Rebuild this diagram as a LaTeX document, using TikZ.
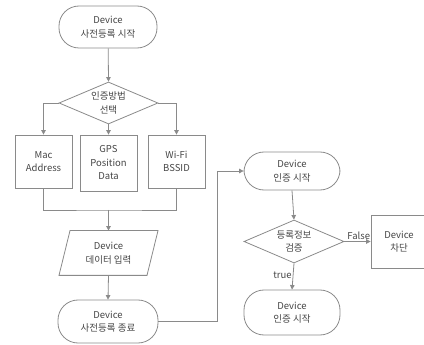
\documentclass[tikz,border=0pt]{standalone}
\usepackage{fontspec}
\setmainfont{Noto Sans CJK KR}
\usetikzlibrary{arrows.meta,calc,shapes.geometric}
\definecolor{linegray}{HTML}{8A8A8A}
\definecolor{textgray}{HTML}{454545}
\tikzset{
  base/.style={draw=linegray, line width=0.8pt, text=textgray, align=center, inner sep=0pt,
    font=\fontsize{9.5}{13.5}\selectfont},
  terminal/.style={base, rectangle, rounded corners=20pt},
  procbox/.style={base, rectangle},
  decision/.style={base, diamond},
  iobox/.style={base, draw=none},
  label/.style={text=textgray, font=\fontsize{9.5}{12}\selectfont, inner sep=1pt},
  flow/.style={draw=linegray, line width=0.8pt, -{Triangle[width=4.5pt,length=4.5pt]}},
  link/.style={draw=linegray, line width=0.8pt}
}
\begin{document}
\begin{tikzpicture}[x=1pt, y=-1pt]
\useasboundingbox (0,0) rectangle (424,345);

% registration branch
\node[terminal, minimum width=98pt, minimum height=42pt] (start) at (108,27) {Device\\사전등록 시작};
\node[decision, minimum width=99pt, minimum height=42pt] (sel) at (108.5,103) {};
\node[text=textgray, align=center, font=\fontsize{9.5}{13.5}\selectfont, inner sep=0pt] (seltxt) at (sel) {인증방법\\선택};

\node[procbox, minimum width=57pt, minimum height=53pt] (mac) at (43.5,161.5) {Mac\\Address};
\node[procbox, minimum width=57pt, minimum height=56pt] (gps) at (108.5,163) {GPS\\Position\\Data};
\node[procbox, minimum width=57pt, minimum height=53pt] (wifi) at (176.5,161.5) {Wi-Fi\\BSSID};
\coordinate (merge) at (108.5,210);

\node[iobox, minimum width=88pt, minimum height=44pt] (inp) at (108.5,253) {Device\\데이터 입력};
\draw[link] ($(inp.north)+(-38.5pt,0)$) -- ($(inp.north)+(49.5pt,0)$)
  -- ($(inp.south)+(38.5pt,0)$) -- ($(inp.south)+(-49.5pt,0)$) -- cycle;

\node[terminal, minimum width=100pt, minimum height=43pt] (endreg) at (108,321.5) {Device\\사전등록 종료};

% authentication branch
\node[terminal, minimum width=96pt, minimum height=38pt] (auth) at (292,171) {Device\\인증 시작};
\node[decision, minimum width=100pt, minimum height=43pt] (ver) at (294,241.5) {};
\node[text=textgray, align=center, font=\fontsize{9.5}{13.5}\selectfont, inner sep=0pt] (vertxt) at (ver) {등록정보\\검증};
\node[procbox, minimum width=56pt, minimum height=53pt] (block) at (399,241.5) {Device\\차단};
\node[terminal, minimum width=96pt, minimum height=45pt] (auth2) at (292,312.5) {Device\\인증 시작};

% connectors
\draw[flow] (start) -- (sel.north);
\draw[flow] (sel.west) -| (mac.north);
\draw[flow] (sel.south) -- (gps.north);
\draw[flow] (sel.east) -| (wifi.north);
\draw[link] (mac.south) |- (merge) -| (wifi.south);
\draw[flow] (merge) -- (inp.north);
\draw[flow] (inp.south) -- (endreg.north);
\coordinate (turn) at (217,321.5);
\draw[flow] (endreg.east) -- (turn) |- (auth.west);
\draw[flow] (auth.south) -- (ver.north);
\draw[flow] (ver.east) -- node[label, above, pos=0.55] {False} (block.west);
\draw[flow] (ver.south) -- node[label, left, pos=0.45] {true} (auth2.north);
\end{tikzpicture}
\end{document}
